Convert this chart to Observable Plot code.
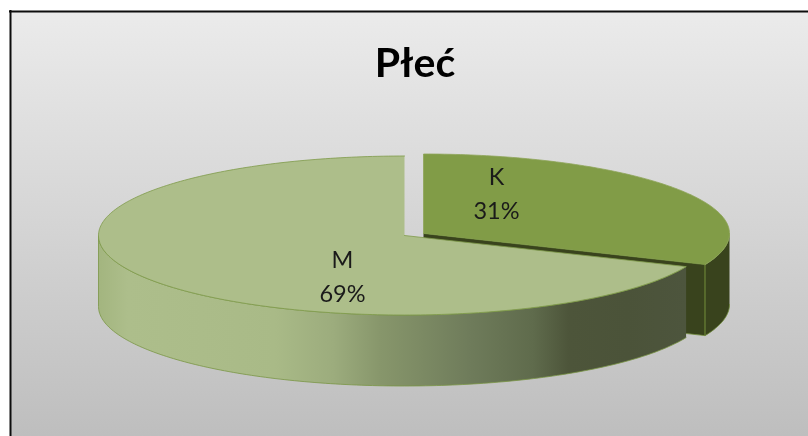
<!DOCTYPE html>
<html><head><meta charset="utf-8">
<style>html,body{margin:0;padding:0;background:#fff}svg{display:block;filter:blur(0.35px)}</style>
<script src="https://cdn.jsdelivr.net/npm/d3@7"></script>
<script src="https://cdn.jsdelivr.net/npm/@observablehq/plot@0.6"></script>
</head><body><div id="chart"></div>
<script>
const chartTitle = "Płeć";
const categories = ["K", "M"];
const shares = [31.4, 68.6];

const W = 808, H = 436;
const rx = 306, ry = 79.5, depth = 71;
const centers = {K: [423, 233], M: [404, 235]};
const labelPos = {K: [496, 191], M: [342, 274]};
const total = d3.sum(shares);
const endT = shares[0] / total * 2 * Math.PI;
const rad = d => d * Math.PI / 180;

function pt(c, t, dy = 0) {
  return {x: c[0] + rx * Math.sin(t), y: c[1] - ry * Math.cos(t) + dy};
}
function arc(c, t0, t1, dy = 0) {
  const n = Math.ceil(Math.abs(t1 - t0) / rad(1));
  return d3.range(n + 1).map(i => pt(c, t0 + (t1 - t0) * i / n, dy));
}
const ctr = (c, dy = 0) => ({x: c[0], y: c[1] + dy});

const K = centers.K, M = centers.M;
const kTop = [ctr(K), ...arc(K, 0, endT)];
const kCut = [ctr(K), pt(K, endT), pt(K, endT, depth), ctr(K, depth)];
const kWall = [...arc(K, rad(90), endT), ...arc(K, endT, rad(90), depth)];
const mTop = [ctr(M), ...arc(M, endT, 2 * Math.PI)];
const mWall = [...arc(M, endT, rad(270)), ...arc(M, rad(270), endT, depth)];

const poly = (data, fill, stroke, sw = 0.8) =>
  Plot.line(data, {x: "x", y: "y", z: null, curve: "linear", fill, stroke, strokeWidth: sw, strokeOpacity: 1});

function gradient(id, stops, attrs) {
  const g = d3.create("svg:linearGradient").attr("id", id);
  for (const k in attrs) g.attr(k, attrs[k]);
  for (const [o, c] of stops) g.append("stop").attr("offset", o).attr("stop-color", c);
  return g.node();
}
const defs = () => {
  const d = d3.create("svg:defs");
  d.append(() => gradient("bg", [[0, "#ebebeb"], [1, "#bebebe"]], {x1: 0, y1: 0, x2: 0, y2: 1}));
  d.append(() => gradient("mw", [
    [0, "#a3b57f"], [0.05, "#adbe8b"], [0.3, "#a9ba87"], [0.4, "#9cac7d"], [0.48, "#87966b"],
    [0.63, "#6f7c5b"], [0.74, "#5f6b4c"], [0.8, "#4d553a"], [0.9, "#4b5339"], [1, "#4d553d"]
  ], {x1: 0, y1: 0, x2: 1, y2: 0}));
  return d.node();
};

const labels = categories.map((c, i) => ({name: c, share: Math.round(shares[i]) + "%", x: labelPos[c][0], y: labelPos[c][1]}));
const font = "Lato, 'Open Sans', sans-serif";

const plot = Plot.plot({
  width: W, height: H, margin: 0,
  style: {background: "#fff"},
  x: {domain: [0, W], range: [0, W], axis: null},
  y: {domain: [0, H], range: [0, H], axis: null},
  marks: [
    defs,
    Plot.rect([{}], {x1: 10, x2: W, y1: 11, y2: H, fill: "url(#bg)"}),
    Plot.ruleX([10], {y1: 10, y2: H, stroke: "#0d0d0d", strokeWidth: 2}),
    Plot.ruleY([11], {x1: 9, x2: W, stroke: "#0d0d0d", strokeWidth: 2}),
    poly(kCut, "#39431d", "#6f8a38"),
    poly(kWall, "#39431d", "#6f8a38"),
    poly(kTop, "#819c47", "#8ea559"),
    poly(mWall, "url(#mw)", "#7a9645"),
    poly(mTop, "#adbe8a", "#7f9a4a"),
    Plot.text([chartTitle], {x: () => 414.5, y: () => 63, text: d => d, fontSize: 41, fontWeight: 700, fontFamily: font, fill: "#000"}),
    Plot.text(labels, {x: "x", y: "y", text: d => d.name + "\n" + d.share, fontSize: 23.5, lineHeight: 1.43, fontFamily: font, fill: "#1a1a1a"})
  ]
});
document.getElementById("chart").append(plot);
</script></body></html>
